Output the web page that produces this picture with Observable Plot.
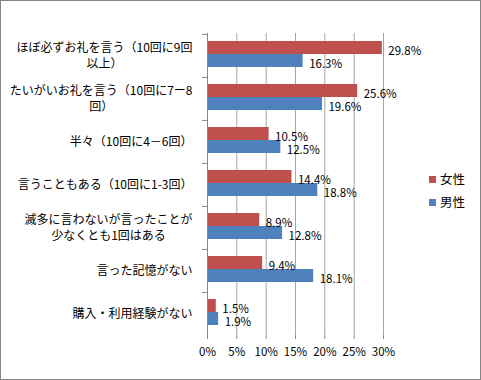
<!DOCTYPE html>
<html><head><meta charset="utf-8">
<script src="https://cdn.jsdelivr.net/npm/d3@7"></script>
<script src="https://cdn.jsdelivr.net/npm/@observablehq/plot@0.6"></script>
<style>
body{margin:0;background:#fff;}
#wrap{position:relative;width:481px;height:380px;font-family:"Noto Sans CJK JP",sans-serif;}
#frame{position:absolute;left:0;top:0;width:479px;height:378px;border:1px solid #868686;pointer-events:none;}
#legend{position:absolute;left:429px;top:167px;font-size:12.5px;line-height:23px;color:#000;}
#legend span.sw{display:inline-block;width:7px;height:7px;margin-right:4px;vertical-align:1px;}
</style></head>
<body><div id="wrap"><div id="frame"></div><div id="legend"></div></div>
<script>
const categories = [
  "ほぼ必ずお礼を言う（10回に9回以上）",
  "たいがいお礼を言う（10回に7ー8回）",
  "半々（10回に4～6回）",
  "言うこともある（10回に1-3回）",
  "滅多に言わないが言ったことが少なくとも1回はある",
  "言った記憶がない",
  "購入・利用経験がない"
];
const tickLabels = [
  "ほぼ必ずお礼を言う（10回に9回\n以上）",
  "たいがいお礼を言う（10回に7ー8\n回）",
  "半々（10回に4－6回）",
  "言うこともある（10回に1-3回）",
  "滅多に言わないが言ったことが\n少なくとも1回はある",
  "言った記憶がない",
  "購入・利用経験がない"
];
const series = ["女性", "男性"];
const female = [29.8, 25.6, 10.5, 14.4, 8.9, 9.4, 1.5];
const male = [16.3, 19.6, 12.5, 18.8, 12.8, 18.1, 1.9];
const colors = ["#C0504D", "#4F81BD"];
const xTicks = [0, 5, 10, 15, 20, 25, 30];

const W = 481, H = 380, ML = 207, MR = 98, MT = 33, MB = 45;
const rows = [];
categories.forEach((c, i) => {
  rows.push({category: c, series: series[0], value: female[i]});
  rows.push({category: c, series: series[1], value: male[i]});
});
const fem = rows.filter(d => d.series === series[0]);
const mal = rows.filter(d => d.series === series[1]);
const half = (H - MT - MB) / categories.length / 2;

// Excel-style wrapped labels: lines centered, block right-aligned 15px left of axis
const xs = Plot.scale({x: {domain: [0, 30], range: [ML, W - MR]}});
const ctx = document.createElement("canvas").getContext("2d");
ctx.font = "12px 'Noto Sans CJK JP'";
const labelLines = [];
categories.forEach((c, i) => {
  const lines = tickLabels[i].split("\n");
  const w = d3.max(lines, l => ctx.measureText(l).width);
  const lx = xs.invert(ML - 15 - w / 2);
  lines.forEach((l, k) => labelLines.push({category: c, text: l, lx, pos: lines.length === 1 ? "single" : (k === 0 ? "first" : "second")}));
});
const lineMark = (pos, dy) => Plot.text(labelLines.filter(d => d.pos === pos),
  {y: "category", x: "lx", text: "text", textAnchor: "middle", dy, fontSize: 12, fill: "#000"});

const chart = Plot.plot({
  width: W,
  height: H,
  marginLeft: ML,
  marginRight: MR,
  marginTop: MT,
  marginBottom: MB,
  style: {fontFamily: "'Noto Sans CJK JP', sans-serif", background: "transparent", color: "#000"},
  x: {domain: [0, 30], ticks: xTicks},
  y: {domain: categories, padding: 0, axis: null},
  marks: [
    Plot.ruleX(xTicks, {stroke: "#a6a6a6", strokeWidth: 1}),
    Plot.ruleY(categories, {y: d => d, x1: -0.85, x2: 0, dy: -half, stroke: "#868686"}),
    Plot.barX(fem, {y: "category", x: "value", fill: colors[0], insetTop: 7, insetBottom: 23}),
    Plot.barX(mal, {y: "category", x: "value", fill: colors[1], insetTop: 20, insetBottom: 10}),
    Plot.text(fem, {y: "category", x: "value", text: d => d.value.toFixed(1) + "%", textAnchor: "start", dx: 6, dy: -5, fontSize: 11.5, fill: "#000"}),
    Plot.text(mal, {y: "category", x: "value", text: d => d.value.toFixed(1) + "%", textAnchor: "start", dx: 6, dy: 8, fontSize: 11.5, fill: "#000"}),
    lineMark("single", 0),
    lineMark("first", -8),
    lineMark("second", 8),
    Plot.ruleX([0], {stroke: "#868686"}),
    Plot.ruleY([0], {frameAnchor: "bottom", stroke: "#868686"}),
    Plot.axisX({ticks: xTicks, tickFormat: d => d + "%", tickSize: 4, tickPadding: 8, fontSize: 11.5, stroke: "#868686", label: null})
  ]
});
document.getElementById("wrap").prepend(chart);
chart.style.position = "absolute";
chart.style.left = "0";
chart.style.top = "0";
const leg = document.getElementById("legend");
leg.innerHTML = series.map((s, i) => `<div><span class="sw" style="background:${colors[i]}"></span>${s}</div>`).join("");
</script>
</body></html>
